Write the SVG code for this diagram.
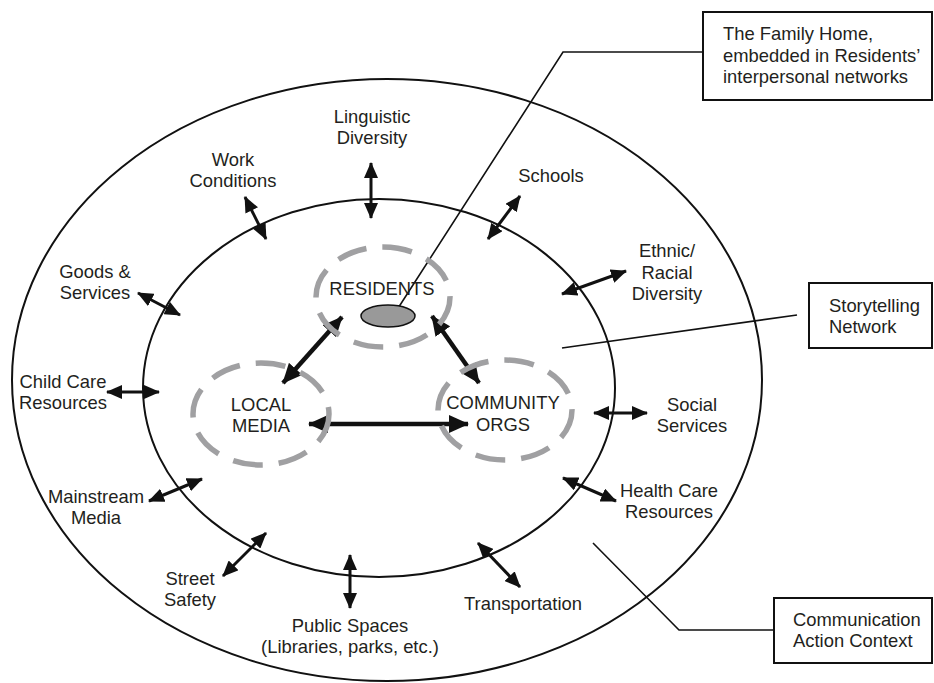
<svg xmlns="http://www.w3.org/2000/svg" width="934" height="683" viewBox="0 0 934 683">
<style>
  text { font-family: "Liberation Sans", Arial, sans-serif; font-size: 18.4px; fill: #231f20; }
  .c { text-anchor: middle; }
  .ring { fill: none; stroke: #111; stroke-width: 2; }
  .dash { fill: none; stroke: #a0a0a2; stroke-width: 5.5; stroke-dasharray: 30 16; }
  .box { fill: #fff; stroke: #111; stroke-width: 2; }
  .lead { fill: none; stroke: #111; stroke-width: 1.6; }
  .oa { stroke: #111; stroke-width: 3; marker-start: url(#hs); marker-end: url(#hs); }
  .ia { stroke: #111; stroke-width: 4.5; marker-start: url(#hl); marker-end: url(#hl); }
</style>
<defs>
  <marker id="hs" viewBox="0 0 16 14" refX="15" refY="7" markerWidth="16" markerHeight="14" markerUnits="userSpaceOnUse" orient="auto-start-reverse">
    <path d="M0,0 L16,7 L0,14 z" fill="#111"/>
  </marker>
  <marker id="hl" viewBox="0 0 20 18" refX="19" refY="9" markerWidth="20" markerHeight="18" markerUnits="userSpaceOnUse" orient="auto-start-reverse">
    <path d="M0,0 L20,9 L0,18 z" fill="#111"/>
  </marker>
</defs>
<rect width="934" height="683" fill="#fff"/>

<g id="outer-context">
  <ellipse class="ring" cx="387" cy="380" rx="375" ry="301"/>
</g>
<g id="storytelling-ring">
  <ellipse class="ring" cx="379" cy="388" rx="236" ry="189"/>
</g>

<g id="connectors">
  <line class="oa" x1="371" y1="163" x2="371" y2="218"/>
  <line class="oa" x1="245" y1="197" x2="266" y2="239"/>
  <line class="oa" x1="138" y1="293" x2="180" y2="315"/>
  <line class="oa" x1="107" y1="392" x2="159" y2="392"/>
  <line class="oa" x1="149" y1="501" x2="202" y2="479"/>
  <line class="oa" x1="223" y1="576" x2="266" y2="533"/>
  <line class="oa" x1="350" y1="555" x2="350" y2="608"/>
  <line class="oa" x1="520" y1="196" x2="488" y2="239"/>
  <line class="oa" x1="626" y1="271" x2="562" y2="294"/>
  <line class="oa" x1="594" y1="413" x2="647" y2="413"/>
  <line class="oa" x1="563" y1="478" x2="616" y2="501"/>
  <line class="oa" x1="478" y1="543" x2="520" y2="587"/>
  <line class="ia" x1="342" y1="317" x2="283" y2="383"/>
  <line class="ia" x1="432" y1="316" x2="479" y2="383"/>
  <line class="ia" x1="309" y1="424" x2="468" y2="424"/>
  <polyline class="lead" points="703,52 563,52 393,316"/>
  <line class="lead" x1="797" y1="315" x2="562" y2="348"/>
  <polyline class="lead" points="774,630 679,630 593,543"/>
</g>

<g id="residents">
  <ellipse class="dash" cx="383" cy="297" rx="67" ry="50"/>
  <text class="c" x="382" y="295">RESIDENTS</text>
</g>
<g id="family-home-marker">
  <ellipse cx="388" cy="316" rx="27" ry="11" fill="#999" stroke="#111" stroke-width="1.5"/>
</g>
<g id="local-media">
  <ellipse class="dash" cx="261" cy="414" rx="68" ry="51"/>
  <text class="c" x="261" y="411">LOCAL</text>
  <text class="c" x="261" y="432">MEDIA</text>
</g>
<g id="community-orgs">
  <ellipse class="dash" cx="505" cy="410" rx="67" ry="50"/>
  <text class="c" x="503" y="409">COMMUNITY</text>
  <text class="c" x="503" y="431">ORGS</text>
</g>

<g id="linguistic-diversity"><text class="c" x="372" y="123">Linguistic</text><text class="c" x="372" y="144">Diversity</text></g>
<g id="work-conditions"><text class="c" x="233" y="166">Work</text><text class="c" x="233" y="187">Conditions</text></g>
<g id="goods-services"><text class="c" x="95" y="278">Goods &amp;</text><text class="c" x="95" y="299">Services</text></g>
<g id="child-care"><text class="c" x="63" y="388">Child Care</text><text class="c" x="63" y="409">Resources</text></g>
<g id="mainstream-media"><text class="c" x="96" y="503">Mainstream</text><text class="c" x="96" y="524">Media</text></g>
<g id="street-safety"><text class="c" x="190" y="585">Street</text><text class="c" x="190" y="606">Safety</text></g>
<g id="public-spaces"><text class="c" x="350" y="632">Public Spaces</text><text class="c" x="350" y="653">(Libraries, parks, etc.)</text></g>
<g id="schools"><text class="c" x="551" y="182">Schools</text></g>
<g id="ethnic-diversity"><text class="c" x="667" y="257">Ethnic/</text><text class="c" x="667" y="279">Racial</text><text class="c" x="667" y="300">Diversity</text></g>
<g id="social-services"><text class="c" x="692" y="411">Social</text><text class="c" x="692" y="432">Services</text></g>
<g id="health-care"><text class="c" x="669" y="497">Health Care</text><text class="c" x="669" y="518">Resources</text></g>
<g id="transportation"><text class="c" x="523" y="610">Transportation</text></g>

<g id="family-home-box">
  <rect class="box" x="703" y="12" width="229" height="88"/>
  <text x="723" y="40">The Family Home,</text>
  <text x="723" y="62">embedded in Residents’</text>
  <text x="723" y="83">interpersonal networks</text>
</g>
<g id="storytelling-box">
  <rect class="box" x="809" y="283" width="123" height="65"/>
  <text x="829" y="312">Storytelling</text>
  <text x="829" y="333">Network</text>
</g>
<g id="context-box">
  <rect class="box" x="774" y="598" width="158" height="65"/>
  <text x="793" y="626">Communication</text>
  <text x="793" y="647">Action Context</text>
</g>
</svg>
